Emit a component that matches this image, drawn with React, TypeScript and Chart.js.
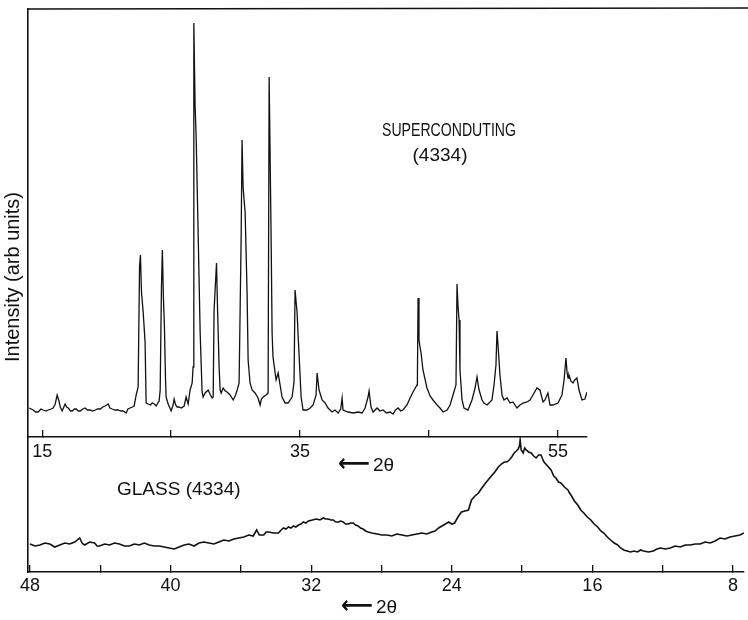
import React, { useEffect, useRef } from 'react';
import { Chart, registerables } from 'chart.js';

Chart.register(...registerables);

// Superconducting (4334) pattern: 2θ (deg) and intensity (arb. units)
const TOP_THETA = [
  13.99, 14.3, 14.5, 14.69, 14.9, 15.08, 15.3, 15.47, 15.7, 15.85, 16.01, 16.16, 16.3, 16.4, 16.55, 16.78, 16.9, 17.02,
  17.2, 17.33, 17.5, 17.64, 17.8, 17.95, 18.15, 18.33, 18.5, 18.72, 18.9, 19.11, 19.3, 19.5, 19.7, 19.88, 20.12, 20.25,
  20.43, 20.65, 20.89, 21.1, 21.28, 21.51, 21.65, 21.82, 22.0, 22.13, 22.29, 22.44, 22.55, 22.62, 22.7, 22.83, 22.98,
  23.06, 23.22, 23.4, 23.53, 23.7, 23.84, 23.97, 24.07, 24.15, 24.25, 24.32, 24.4, 24.48, 24.56, 24.61, 24.77, 25.0,
  25.15, 25.23, 25.35, 25.47, 25.6, 25.78, 26.01, 26.16, 26.32, 26.47, 26.63, 26.7, 26.76, 26.86, 26.94, 27.1, 27.25,
  27.4, 27.48, 27.64, 27.87, 28.05, 28.18, 28.26, 28.33, 28.52, 28.6, 28.72, 28.8, 28.88, 29.03, 29.2, 29.34, 29.57,
  29.81, 30.0, 30.12, 30.27, 30.43, 30.5, 30.58, 30.74, 30.89, 30.97, 31.12, 31.28, 31.51, 31.74, 31.9, 32.0, 32.13,
  32.36, 32.52, 32.6, 32.75, 32.83, 32.9, 33.14, 33.3, 33.45, 33.6, 33.84, 34.07, 34.38, 34.53, 34.61, 34.77, 34.84,
  35.08, 35.23, 35.54, 35.78, 36.01, 36.24, 36.32, 36.47, 36.71, 36.94, 37.17, 37.48, 37.71, 37.95, 38.15, 38.26,
  38.33, 38.72, 39.11, 39.5, 39.81, 40.04, 40.27, 40.35, 40.5, 40.66, 40.97, 41.2, 41.43, 41.7, 41.98, 42.21, 42.4,
  42.6, 42.8, 42.98, 43.29, 43.53, 43.76, 44.07, 44.1, 44.15, 44.22, 44.38, 44.53, 44.84, 45.08, 45.31, 45.62, 45.85,
  46.09, 46.4, 46.63, 46.86, 47.09, 47.17, 47.25, 47.33, 47.4, 47.56, 47.71, 48.02, 48.33, 48.57, 48.72, 48.88, 49.11,
  49.26, 49.5, 49.88, 50.04, 50.19, 50.27, 50.35, 50.5, 50.66, 50.81, 51.05, 51.28, 51.51, 51.82, 52.05, 52.29, 52.6,
  52.83, 53.06, 53.37, 53.6, 53.84, 53.99, 54.22, 54.38, 54.61, 55.0, 55.31, 55.47, 55.62, 55.7, 55.78, 55.85, 56.0,
  56.16, 56.3, 56.47, 56.63, 56.86, 57.09, 57.25,
];
const TOP_INTENSITY = [
  29, 27, 25, 25, 28, 27, 26, 27, 28, 29, 33, 42, 36, 30, 26, 33, 30, 29,
  26, 26, 28, 28, 26, 26, 28, 29, 27, 27, 26, 27, 28, 28, 30, 31, 33, 29,
  28, 27, 27, 26, 26, 24, 28, 29, 30, 31, 42, 50, 170, 182, 145, 125, 95,
  34, 33, 32, 34, 33, 31, 34, 36, 47, 150, 187, 140, 110, 60, 40, 33, 26,
  32, 38, 32, 30, 30, 29, 31, 40, 33, 47, 54, 70, 414, 330, 300, 200, 105,
  45, 40, 44, 47, 42, 39, 40, 127, 174, 127, 70, 47, 44, 49, 46, 45, 42,
  37, 42, 47, 54, 200, 297, 250, 224, 144, 77, 54, 47, 44, 39, 32, 38, 40,
  42, 44, 360, 204, 104, 80, 57, 64, 52, 40, 34, 34, 40, 55, 147, 124, 104,
  40, 27, 27, 29, 32, 42, 64, 47, 37, 34, 29, 25, 27, 24, 28, 39,
  27, 25, 24, 25, 24, 29, 40, 46, 30, 25, 29, 26, 27, 24, 25, 23, 27,
  29, 26, 27, 32, 39, 45, 52, 60, 139, 97, 84, 67, 49, 41, 37, 32, 29,
  25, 27, 32, 42, 52, 153, 130, 117, 67, 37, 29, 27, 37, 49, 60, 47, 37,
  34, 32, 37, 52, 72, 106, 92, 62, 42, 37, 39, 34, 35, 29, 32, 34, 35,
  37, 42, 49, 47, 35, 37, 44, 32, 32, 34, 42, 57, 79, 65, 59, 62, 56,
  54, 57, 59, 47, 37, 38, 45,
];

// Glass (4334) pattern: 2θ (deg) and intensity (arb. units)
const GLASS_THETA = [
  48.0, 47.71, 47.43, 47.15, 46.87, 46.58, 46.3, 46.02, 45.74, 45.45, 45.17, 45.03, 44.89, 44.6, 44.32, 44.18, 44.04,
  43.75, 43.47, 43.19, 42.91, 42.62, 42.34, 42.06, 41.78, 41.49, 41.21, 40.93, 40.64, 40.36, 40.08, 39.8, 39.51, 39.23,
  38.95, 38.66, 38.38, 38.1, 37.82, 37.53, 37.25, 36.97, 36.68, 36.4, 36.12, 35.83, 35.55, 35.3, 35.1, 34.95, 34.7,
  34.56, 34.42, 34.14, 33.86, 33.71, 33.57, 33.43, 33.29, 33.15, 33.01, 32.87, 32.72, 32.58, 32.44, 32.3, 32.16, 31.93,
  31.71, 31.5, 31.31, 31.17, 31.03, 30.88, 30.74, 30.6, 30.46, 30.32, 30.18, 30.04, 29.9, 29.75, 29.61, 29.47, 29.33,
  29.19, 29.05, 28.9, 28.76, 28.54, 28.25, 27.97, 27.69, 27.41, 27.12, 26.84, 26.55, 26.27, 25.99, 25.71, 25.42, 25.14,
  24.95, 24.75, 24.46, 24.18, 24.0, 23.84, 23.65, 23.45, 23.25, 23.05, 22.88, 22.68, 22.48, 22.25, 22.03, 21.89, 21.75,
  21.55, 21.35, 21.18, 21.01, 20.87, 20.73, 20.59, 20.45, 20.33, 20.22, 20.15, 20.11, 20.05, 19.94, 19.85, 19.77, 19.62,
  19.48, 19.34, 19.2, 19.06, 18.92, 18.83, 18.75, 18.55, 18.35, 18.2, 18.07, 17.93, 17.79, 17.59, 17.39, 17.3, 17.22,
  17.02, 16.83, 16.66, 16.49, 16.29, 16.09, 15.9, 15.7, 15.52, 15.35, 15.15, 14.96, 14.76, 14.56, 14.39, 14.22, 14.02,
  13.83, 13.63, 13.43, 13.26, 13.09, 12.81, 12.53, 12.33, 12.13, 11.85, 11.57, 11.28, 11.0, 10.72, 10.43, 10.15, 9.87,
  9.58, 9.3, 9.02, 8.74, 8.45, 8.17, 7.89, 7.6, 7.38,
];
const GLASS_INTENSITY = [
  28, 26, 27, 29, 28, 25, 27, 29, 28, 30, 34, 29, 27, 30, 29, 26, 26,
  28, 27, 29, 28, 26, 26, 28, 27, 29, 27, 26, 26, 25, 24, 23, 25, 27,
  28, 26, 29, 30, 29, 28, 30, 32, 31, 33, 34, 35, 37, 36, 42, 37, 37,
  40, 40, 39, 39, 42, 44, 43, 45, 44, 46, 45, 47, 48, 50, 49, 51, 52,
  53, 52, 54, 53, 53, 52, 52, 50, 50, 51, 50, 48, 48, 49, 49, 47, 46,
  44, 43, 41, 40, 39, 38, 37, 37, 36, 38, 37, 36, 37, 38, 39, 38, 40,
  41, 44, 47, 50, 48, 49, 55, 60, 61, 62, 72, 76, 79, 85, 90, 93, 96,
  100, 105, 108, 110, 110, 112, 115, 119, 121, 123, 126, 132, 122, 119, 124, 122, 120,
  119, 116, 114, 117, 117, 113, 110, 106, 102, 96, 94, 90, 89, 85, 82, 79, 77,
  71, 67, 62, 59, 55, 52, 48, 45, 41, 39, 35, 32, 29, 27, 24, 22, 21,
  20, 21, 20, 22, 21, 20, 21, 23, 24, 23, 24, 26, 25, 27, 27, 28, 28,
  30, 29, 31, 34, 33, 35, 36, 37, 39,
];

const TOP_TICKS = [15, 25, 35, 45, 55];
const TOP_TICK_LABELS = [15, 35, 55];
const GLASS_TICKS = [48, 44, 40, 36, 32, 28, 24, 20, 16, 12, 8];
const GLASS_TICK_LABELS = [48, 40, 32, 24, 16, 8];

const Y_TITLE = 'Intensity (arb units)';
const TOP_LABEL_1 = 'SUPERCONDUTING';
const TOP_LABEL_2 = '(4334)';
const GLASS_LABEL = 'GLASS (4334)';
const X_ARROW = '⟵';
const X_TITLE = '2θ';

const FONT = "'Liberation Sans', 'DejaVu Sans', Arial, sans-serif";
const INK = '#111';

function drawAxisTitle(ctx: any, cx: number, cy: number) {
  // long left arrow followed by "2θ"
  ctx.textBaseline = 'middle';
  ctx.textAlign = 'right';
  ctx.font = `bold 24px 'DejaVu Sans', ${FONT}`;
  ctx.fillText(X_ARROW, cx + 2, cy, 32);
  ctx.textAlign = 'left';
  ctx.font = `19px ${FONT}`;
  ctx.fillText(X_TITLE, cx + 5, cy + 1);
}

const topDecor = {
  id: 'topDecor',
  afterDraw(chart: any) {
    const { ctx, chartArea } = chart;
    ctx.save();
    ctx.strokeStyle = INK;
    ctx.lineWidth = 1.6;
    ctx.beginPath();
    ctx.moveTo(chartArea.left - 1, chartArea.top);
    ctx.lineTo(chart.width, chartArea.top - 1);
    ctx.stroke();
    ctx.fillStyle = INK;
    ctx.textAlign = 'center';
    ctx.textBaseline = 'middle';
    ctx.font = `19px ${FONT}`;
    ctx.fillText(TOP_LABEL_1, 449, 131, 134);
    ctx.fillText(TOP_LABEL_2, 440, 156);
    drawAxisTitle(ctx, 368, 465);
    ctx.translate(13, 277);
    ctx.rotate(-Math.PI / 2);
    ctx.textAlign = 'center';
    ctx.font = `20px ${FONT}`;
    ctx.fillText(Y_TITLE, 0, 0, 184);
    ctx.restore();
  },
};

const glassDecor = {
  id: 'glassDecor',
  afterDraw(chart: any) {
    const { ctx } = chart;
    ctx.save();
    ctx.fillStyle = INK;
    ctx.textBaseline = 'middle';
    ctx.textAlign = 'left';
    ctx.font = `19px ${FONT}`;
    ctx.fillText(GLASS_LABEL, 117, 60, 132);
    drawAxisTitle(ctx, 371, 177);
    ctx.restore();
  },
};

const tickFont = { family: FONT, size: 18 };

export default function App() {
  const topRef = useRef<HTMLCanvasElement>(null);
  const botRef = useRef<HTMLCanvasElement>(null);

  useEffect(() => {
    const topData = TOP_THETA.map((x, i) => ({ x, y: TOP_INTENSITY[i] }));
    const glassData = GLASS_THETA.map((x, i) => ({ x, y: GLASS_INTENSITY[i] }));

    const top = new Chart(topRef.current as HTMLCanvasElement, {
      type: 'line',
      data: {
        datasets: [
          {
            data: topData,
            borderColor: INK,
            borderWidth: 1.3,
            pointRadius: 0,
            tension: 0,
            fill: false,
          },
        ],
      },
      options: {
        animation: false,
        responsive: false,
        events: [],
        layout: { padding: { left: 28, right: 161, top: 9, bottom: 0 } },
        plugins: { legend: { display: false }, tooltip: { enabled: false } },
        scales: {
          x: {
            type: 'linear',
            min: 13.9,
            max: 57.25,
            afterBuildTicks: (s: any) => {
              s.ticks = TOP_TICKS.map((v) => ({ value: v }));
            },
            afterFit: (s: any) => {
              s.height = 43;
            },
            ticks: {
              autoSkip: false,
              maxRotation: 0,
              padding: 11,
              color: INK,
              font: tickFont,
              callback: (v: any) => (TOP_TICK_LABELS.includes(Number(v)) ? String(v) : ''),
            },
            grid: { drawOnChartArea: false, tickLength: -7, color: INK, lineWidth: 1.3 },
            border: { display: true, color: INK, width: 1.5 },
          },
          y: {
            min: 0,
            max: 428,
            afterFit: (s: any) => {
              s.width = 0;
            },
            ticks: { display: false },
            grid: { display: false },
            border: { display: true, color: INK, width: 1.6 },
          },
        },
      },
      plugins: [topDecor],
    });

    const bot = new Chart(botRef.current as HTMLCanvasElement, {
      type: 'line',
      data: {
        datasets: [
          {
            data: glassData,
            borderColor: INK,
            borderWidth: 1.6,
            pointRadius: 0,
            tension: 0,
            fill: false,
          },
        ],
      },
      options: {
        animation: false,
        responsive: false,
        events: [],
        layout: { padding: { left: 28, right: 0, top: 7, bottom: 0 } },
        plugins: { legend: { display: false }, tooltip: { enabled: false } },
        scales: {
          x: {
            type: 'linear',
            reverse: true,
            min: 7.38,
            max: 48.11,
            afterBuildTicks: (s: any) => {
              s.ticks = GLASS_TICKS.map((v) => ({ value: v }));
            },
            afterFit: (s: any) => {
              s.height = 48;
            },
            ticks: {
              autoSkip: false,
              maxRotation: 0,
              padding: 10,
              color: INK,
              font: tickFont,
              callback: (v: any) => (GLASS_TICK_LABELS.includes(Number(v)) ? String(v) : ''),
            },
            grid: { drawOnChartArea: false, tickLength: -7, color: INK, lineWidth: 1.3 },
            border: { display: true, color: INK, width: 1.6 },
          },
          y: {
            min: 0,
            max: 135,
            afterFit: (s: any) => {
              s.width = 0;
            },
            ticks: { display: false },
            grid: { display: false },
            border: { display: true, color: INK, width: 1.6 },
          },
        },
      },
      plugins: [glassDecor],
    });

    return () => {
      top.destroy();
      bot.destroy();
    };
  }, []);

  return (
    <div style={{ position: 'absolute', left: 0, top: 0, width: 748, height: 620, background: '#fff', overflow: 'hidden' }}>
      <canvas ref={botRef} width={748} height={190} style={{ position: 'absolute', left: 0, top: 430 }} />
      <canvas ref={topRef} width={748} height={480} style={{ position: 'absolute', left: 0, top: 0 }} />
    </div>
  );
}
